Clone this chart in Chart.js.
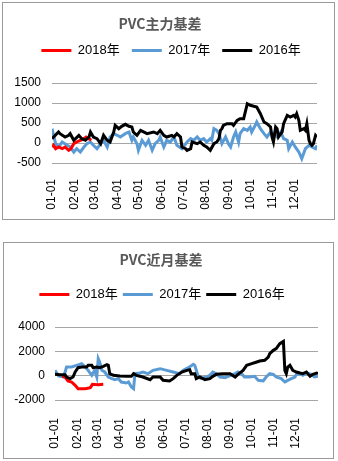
<!DOCTYPE html>
<html>
<head>
<meta charset="utf-8">
<script src="https://cdn.jsdelivr.net/npm/chart.js@4"></script>
<style>
	html, body { margin: 0; padding: 0; background: #fff; }
	.box { position: absolute; border: 1px solid #9a9a9a; background: #fff; }
	#box-main { left: 2px; top: 2px; width: 331px; height: 216px; }
	#box-near { left: 3px; top: 242px; width: 329px; height: 215px; }
	canvas { display: block; }
</style>
</head>
<body>
<div class="box" id="box-main"><canvas id="chart-main" width="331" height="216"></canvas></div>
<div class="box" id="box-near"><canvas id="chart-near" width="329" height="215"></canvas></div>
<script>
// Month boundaries (day of year) and their labels
const monthTicks  = [0, 31, 59, 90, 120, 151, 181, 212, 243, 273, 304, 334];
const monthLabels = ["01-01", "02-01", "03-01", "04-01", "05-01", "06-01",
                     "07-01", "08-01", "09-01", "10-01", "11-01", "12-01"];
const seriesNames = ["2018年", "2017年", "2016年"];

// ── PVC主力基差 ─────────────────────────────────────────────────────
const mainDays2018  = [0, 2, 5, 9, 14, 18, 23, 26, 30, 34, 39, 44, 47, 51, 54];
const mainBasis2018 = [-100, -58, -142, -100, -142, -100, -183, -142, -17, 25, 67, 108, 150, 108, 67];

const mainDays2017  = [0, 5, 9, 14, 21, 25, 30, 34, 39, 44, 48, 53, 57, 62, 67, 71, 76, 80, 85, 90,
                       94, 101, 106, 110, 112, 117, 119, 124, 129, 133, 138, 142, 147, 149, 154, 158, 163, 168, 172, 179,
                       186, 191, 195, 200, 204, 209, 213, 218, 220, 223, 227, 230, 234, 239, 243, 246, 250, 253, 257, 259,
                       264, 269, 273, 275, 280, 282, 287, 292, 296, 301, 305, 310, 315, 319, 324, 326, 331, 335, 340, 344,
                       349, 354, 358, 363, 365];
const mainBasis2017 = [358, -17, -100, 25, -58, -100, -225, -142, -225, -100, -17, 25, -58, -142, -17, 67, -100, 150, 233, 192,
                       150, 233, 275, 67, 150, -17, -183, 67, -58, 67, -183, -17, 67, 150, -100, 67, 25, 150, -58, -142,
                       25, 108, 67, 150, 67, 108, 25, 108, 67, 358, 317, 233, -17, 150, -17, -100, 150, 275, 25, 233,
                       358, 317, 400, 275, 442, 525, 358, 233, 150, 275, 233, 150, 275, 108, 67, -142, 25, -100, -225, -392,
                       -142, -58, -100, -142, -58];

const mainDays2016  = [0, 9, 11, 18, 23, 25, 30, 37, 41, 46, 51, 53, 57, 62, 67, 71, 76, 80, 85, 87,
                       92, 96, 101, 106, 110, 112, 117, 122, 131, 140, 145, 149, 154, 158, 165, 168, 172, 177, 179, 184,
                       186, 191, 193, 200, 204, 209, 213, 218, 223, 227, 230, 232, 234, 236, 241, 248, 250, 255, 259, 264,
                       269, 273, 278, 282, 287, 292, 296, 301, 303, 305, 308, 310, 312, 317, 319, 324, 328, 333, 335, 337,
                       340, 342, 347, 349, 351, 354, 356, 358, 360, 363, 365];
const mainBasis2016 = [108, 275, 233, 150, 192, 233, 67, 192, 108, 67, 150, 275, 150, 108, -17, 192, 67, 25, 275, 442,
                       358, 417, 467, 417, 400, 275, 192, 317, 233, 275, 233, 317, 192, 150, 192, 150, 233, 150, -100, -142,
                       -183, -142, 25, -17, 25, -58, -100, -183, -17, 25, 108, 317, 358, 442, 483, 483, 442, 567, 608, 608,
                       983, 942, 917, 900, 733, 525, 483, 400, 150, 25, 400, 358, 150, 275, 483, 692, 650, 692, 650, 733,
                       567, 317, 358, 317, 483, 67, -17, -58, -17, 192, 150];

// ── PVC近月基差 ─────────────────────────────────────────────────────
const nearDays2018  = [10, 14, 18, 23, 28, 32, 42, 49, 52, 60, 67];
const nearBasis2018 = [-50, -110, -438, -521, -795, -1069, -1069, -986, -712, -740, -712];

const nearDays2017  = [0, 5, 12, 16, 23, 30, 37, 42, 46, 51, 55, 58, 60, 62, 65, 69, 74, 79, 83, 88,
                       92, 99, 102, 106, 109, 111, 118, 122, 129, 136, 146, 155, 164, 173, 178, 185, 192, 194, 199, 203,
                       210, 215, 219, 224, 229, 236, 243, 250, 254, 259, 263, 270, 277, 282, 289, 293, 298, 303, 307, 314,
                       319, 323, 328, 333, 335, 340, 344, 349, 356, 360, 365];
const nearBasis2017 = [438, -27, -110, 712, 712, 849, 986, 712, 438, 27, 438, -110, 1397, 1123, 438, 301, -110, -247, -329, -247,
                       -521, -603, -521, -932, -1069, 164, 219, 301, 164, 438, 575, 438, 301, 164, 438, 658, 932, 849, -110, -247,
                       -110, 27, 301, 164, -110, -164, 0, 164, 301, 164, -110, -110, -55, -384, -438, -110, 164, 110, -110, -247,
                       -521, -384, -247, -110, 110, 164, 27, 219, 110, -110, -55];

const nearDays2016  = [0, 7, 14, 16, 21, 25, 28, 32, 37, 44, 46, 51, 53, 58, 62, 67, 72, 74, 76, 81,
                       90, 99, 106, 109, 113, 122, 132, 136, 146, 150, 159, 164, 169, 176, 183, 187, 189, 194, 196, 201,
                       208, 215, 219, 224, 233, 243, 250, 254, 261, 266, 273, 280, 284, 291, 296, 298, 303, 307, 312, 317,
                       319, 321, 323, 326, 330, 335, 340, 344, 349, 354, 358, 363, 365];
const nearBasis2016 = [110, 82, 82, -110, -247, -110, 301, 658, 712, 712, 849, 849, 658, 712, 658, 767, 904, 849, 164, 27,
                       -27, -55, -55, 164, 27, -110, -329, -110, -110, -384, -438, -247, 27, 301, 438, 493, 164, 164, -247, -110,
                       -329, -247, -55, 110, 164, 164, -110, 110, 438, 849, 986, 1123, 1206, 1260, 1534, 1808, 2082, 2219, 2630, 2822,
                       438, 164, 712, 849, 438, 301, 219, 164, 301, -55, 110, 219, 164];

const toPoints = (days, vals) => days.map((d, i) => ({ x: d, y: vals[i] }));

const FONT = "'Liberation Sans', Arial, 'Noto Sans CJK SC', sans-serif";

// extra room under the legend, and a small sideways nudge of the legend row
const legendPlacement = (gap, dx) => ({
	id: "legendPlacement",
	beforeInit(chart) {
		const fit = chart.legend.fit;
		chart.legend.fit = function () {
			fit.call(this);
			this.height += gap;
		};
	},
	afterLayout(chart) {
		chart.legend.left += dx;
		chart.legend.right += dx;
	},
});

function basisChart(canvasId, cfg) {
	return new Chart(document.getElementById(canvasId), {
		type: "line",
		data: {
			datasets: [
				{ label: seriesNames[0], data: cfg.red,   borderColor: "#ff0000", backgroundColor: "#ff0000", order: 1 },
				{ label: seriesNames[1], data: cfg.blue,  borderColor: "#5b9bd5", backgroundColor: "#5b9bd5", order: 2 },
				{ label: seriesNames[2], data: cfg.black, borderColor: "#000000", backgroundColor: "#000000", order: 0 },
			].map(ds => Object.assign(ds, {
				borderWidth: 3, pointRadius: 0, tension: 0, fill: false, pointStyle: "line",
			})),
		},
		plugins: [legendPlacement(cfg.legendGap, cfg.legendShift)],
		options: {
			responsive: false,
			animation: false,
			layout: { padding: { left: 0, right: cfg.padRight, top: 0, bottom: 0 } },
			plugins: {
				title: {
					display: true,
					text: cfg.title,
					color: "#595959",
					font: { family: "'Noto Sans CJK SC', sans-serif", size: 14, weight: "bold", lineHeight: 1 },
					padding: { top: cfg.titleTop, bottom: cfg.titleBottom },
				},
				legend: {
					labels: {
						usePointStyle: true,
						pointStyleWidth: 30,
						padding: cfg.legendPad,
						color: "#000",
						font: { family: FONT, size: 13 },
						sort: (a, b) => a.datasetIndex - b.datasetIndex,
					},
				},
				tooltip: { enabled: false },
			},
			scales: {
				x: {
					type: "linear",
					min: 0,
					max: 365,
					border: { display: false },
					grid: { display: false },
					afterBuildTicks: (scale) => { scale.ticks = monthTicks.map(v => ({ value: v })); },
					afterFit: (scale) => { scale.height = cfg.xHeight; },
					ticks: {
						autoSkip: false,
						minRotation: 90,
						maxRotation: 90,
						padding: cfg.xPad,
						color: "#000",
						font: { family: FONT, size: 12 },
						callback: (v) => monthLabels[monthTicks.indexOf(v)],
					},
				},
				y: {
					min: cfg.yMin,
					max: cfg.yMax,
					border: { display: false },
					grid: { color: "#a6a6a6", drawTicks: false },
					afterFit: (scale) => { scale.width = cfg.yWidth; },
					ticks: {
						autoSkip: false,
						stepSize: cfg.yStep,
						padding: cfg.yPad,
						color: "#000",
						font: { family: FONT, size: 12 },
						format: { useGrouping: false },
					},
				},
			},
		},
	});
}

basisChart("chart-main", {
	title: "PVC主力基差",
	red:   toPoints(mainDays2018, mainBasis2018),
	blue:  toPoints(mainDays2017, mainBasis2017),
	black: toPoints(mainDays2016, mainBasis2016),
	yMin: -500, yMax: 1500, yStep: 500,
	titleTop: 14, titleBottom: 1, legendPad: 12, legendGap: 16, legendShift: 11,
	padRight: 17, yWidth: 49, yPad: 11, xHeight: 56, xPad: 8,
});

basisChart("chart-near", {
	title: "PVC近月基差",
	red:   toPoints(nearDays2018, nearBasis2018),
	blue:  toPoints(nearDays2017, nearBasis2017),
	black: toPoints(nearDays2016, nearBasis2016),
	yMin: -2000, yMax: 4000, yStep: 2000,
	titleTop: 10, titleBottom: 16, legendPad: 5, legendGap: 16, legendShift: 1,
	padRight: 15, yWidth: 51, yPad: 10, xHeight: 58, xPad: 10,
});
</script>
</body>
</html>
